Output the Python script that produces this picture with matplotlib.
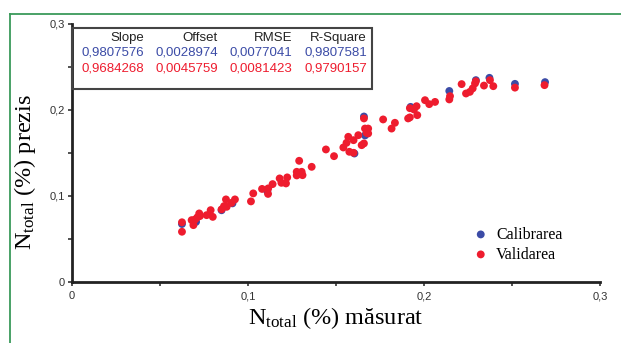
import matplotlib
matplotlib.use("Agg")
import matplotlib.pyplot as plt
from matplotlib.lines import Line2D
from matplotlib.patches import Rectangle

plt.rcParams['mathtext.fontset'] = 'custom'
plt.rcParams['mathtext.rm'] = 'Liberation Serif'
plt.rcParams['mathtext.it'] = 'Liberation Serif:italic'

# Validation (red) points
val_x = [0.0625, 0.0625, 0.068, 0.069, 0.070, 0.0712, 0.0723, 0.0727, 0.0765, 0.0788,
         0.080, 0.085, 0.0864, 0.0875, 0.0879, 0.0907, 0.0926, 0.1017, 0.103, 0.108,
         0.1114, 0.1115, 0.114, 0.118, 0.119, 0.1216, 0.1223, 0.1277, 0.1305, 0.131,
         0.1291, 0.1277, 0.1362, 0.1443, 0.1489, 0.1542, 0.156, 0.157, 0.1576, 0.160,
         0.160, 0.1627, 0.1646, 0.1659, 0.1674, 0.1683, 0.1659, 0.1665, 0.1683, 0.1768,
         0.1816, 0.1835, 0.191, 0.192, 0.1943, 0.1958, 0.1962, 0.192, 0.2006, 0.203,
         0.2063, 0.2148, 0.2144, 0.2214, 0.2239, 0.2261, 0.2277, 0.229, 0.2295, 0.2341,
         0.2375, 0.2394, 0.2517, 0.2685]
val_y = [0.058, 0.069, 0.0715, 0.0657, 0.0723, 0.0747, 0.0793, 0.0762, 0.0773, 0.0831,
         0.0753, 0.0840, 0.0878, 0.0956, 0.0870, 0.0916, 0.0956, 0.0933, 0.1026, 0.1078,
         0.102, 0.1084, 0.1134, 0.120, 0.1149, 0.1142, 0.1212, 0.1277, 0.1277, 0.1238,
         0.1405, 0.1235, 0.1335, 0.1537, 0.1459, 0.156, 0.1614, 0.1684, 0.151, 0.1498,
         0.1645, 0.1703, 0.1587, 0.1607, 0.173, 0.178, 0.1898, 0.178, 0.1723, 0.1886,
         0.178, 0.1847, 0.1898, 0.2017, 0.2002, 0.204, 0.1936, 0.191, 0.211, 0.2064,
         0.209, 0.2157, 0.2119, 0.2297, 0.2188, 0.2207, 0.2247, 0.2305, 0.233, 0.228,
         0.2343, 0.2273, 0.2256, 0.2285]

# Calibration (blue) points visible behind the red ones
cal_x = [0.0625, 0.0705, 0.085, 0.0912, 0.111, 0.1605, 0.1665, 0.1659, 0.1924,
         0.2144, 0.2295, 0.2372, 0.2517, 0.2688]
cal_y = [0.067, 0.0695, 0.083, 0.091, 0.105, 0.149, 0.170, 0.192, 0.2032,
         0.2217, 0.2343, 0.237, 0.230, 0.232]

stat_headers = ["Slope", "Offset", "RMSE", "R-Square"]
cal_stats = ["0,9807576", "0,0028974", "0,0077041", "0,9807581"]
val_stats = ["0,9684268", "0,0045759", "0,0081423", "0,9790157"]

tick_vals = [0, 0.1, 0.2, 0.3]
tick_labels = ["0", "0,1", "0,2", "0,3"]

blue = "#3b4ba6"
red = "#ee1c2e"

fig = plt.figure(figsize=(6.21, 3.43), dpi=100)
ax = fig.add_axes([0.1159, 0.179, 0.8502, 0.752])

ax.scatter(cal_x, cal_y, s=32, color=blue, edgecolors='none', zorder=3, label="Calibrarea")
ax.scatter(val_x, val_y, s=32, color=red, edgecolors='none', zorder=4, label="Validarea")

ax.set_xlim(0, 0.3)
ax.set_ylim(0, 0.3)
ax.set_xticks(tick_vals)
ax.set_xticklabels(tick_labels)
ax.set_yticks(tick_vals)
ax.set_yticklabels(tick_labels)
ax.set_xticks([0.05, 0.15, 0.25], minor=True)
ax.set_yticks([0.05, 0.15, 0.25], minor=True)
for lab in ax.get_xticklabels() + ax.get_yticklabels():
    lab.set_fontfamily("Liberation Sans")
    lab.set_fontsize(8)
    lab.set_color("#333333")
ax.tick_params(which='both', direction='out', length=3, width=1.2, color='#333333')
ax.tick_params(axis='x', pad=4)
ax.tick_params(axis='y', pad=2)

for s in ['top', 'right']:
    ax.spines[s].set_visible(False)
for s in ['left', 'bottom']:
    ax.spines[s].set_linewidth(2)
    ax.spines[s].set_color('#222222')

ax.set_xlabel(r"$\mathregular{N_{total}}$ (%) măsurat", fontfamily="Liberation Serif",
              fontsize=17.5, labelpad=3)
ax.set_ylabel(r"$\mathregular{N_{total}}$ (%) prezis", fontfamily="Liberation Serif",
              fontsize=17.5)
ax.yaxis.set_label_coords(-0.064, 0.425)

# statistics box
box = Rectangle((0, 0.7455), 0.568, 0.2365, transform=ax.transAxes, fill=False,
                edgecolor='#444444', linewidth=1.5, zorder=5, clip_on=False)
ax.add_patch(box)
col_x = [0.136, 0.2765, 0.4167, 0.5587]
for cx, h, c, v in zip(col_x, stat_headers, cal_stats, val_stats):
    ax.text(cx, 0.943, h, transform=ax.transAxes, ha='right', va='center',
            fontfamily="Liberation Sans", fontsize=9.5, color='#222222')
    ax.text(cx, 0.889, c, transform=ax.transAxes, ha='right', va='center',
            fontfamily="Liberation Sans", fontsize=9.5, color=blue)
    ax.text(cx, 0.828, v, transform=ax.transAxes, ha='right', va='center',
            fontfamily="Liberation Sans", fontsize=9.5, color=red)

leg = ax.legend(loc='upper left', bbox_to_anchor=(0.747, 0.238), frameon=False,
                prop={'family': 'Liberation Serif', 'size': 11.5},
                handletextpad=0.45, labelspacing=0.25, handlelength=1.0, borderaxespad=0)

# green frame
fig.add_artist(Line2D([9.5/621, 1.0], [1 - 14/343, 1 - 14/343], transform=fig.transFigure,
                      color='#3a9a5a', linewidth=1.3))
fig.add_artist(Line2D([9.5/621, 9.5/621], [0, 1 - 14/343], transform=fig.transFigure,
                      color='#3a9a5a', linewidth=1.3))

fig.savefig("out.png", dpi=100)
